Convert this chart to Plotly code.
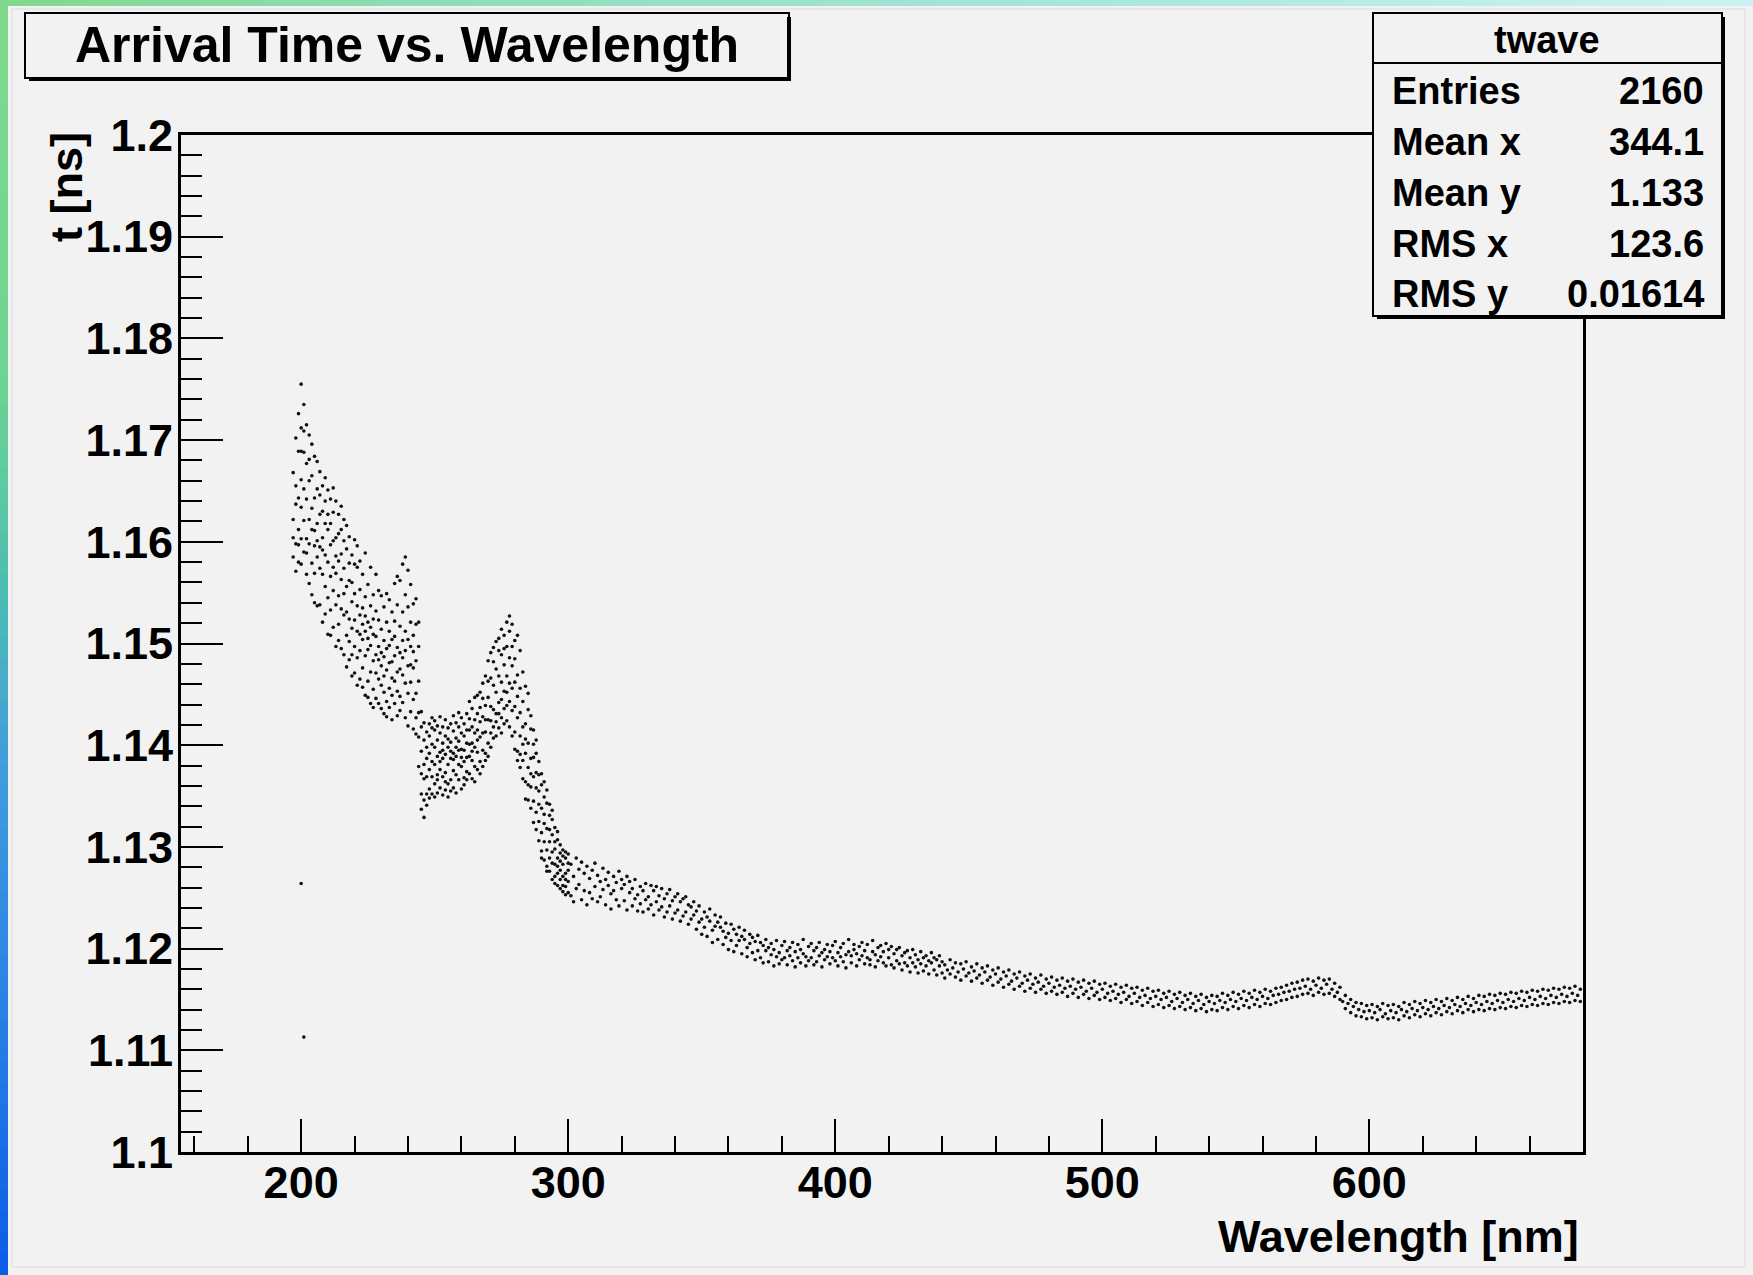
import plotly.graph_objects as go

# ---------------- data ----------------
# arrival time t [ns] of entries, grouped by wavelength bin [nm]
BAND_UV = {
    197: [1.1585, 1.1622, 1.1668, 1.1604],
    198: [1.1571, 1.1637, 1.1702, 1.1598, 1.1655],
    199: [1.1612, 1.1689, 1.1580, 1.1726, 1.1643, 1.1597],
    200: [1.1755, 1.1661, 1.1603, 1.1712, 1.1578, 1.1634, 1.1689],
    201: [1.1735, 1.1652, 1.1590, 1.1688, 1.1621, 1.1709],
    202: [1.1568, 1.1642, 1.1715, 1.1603, 1.1677, 1.1589],
    203: [1.1622, 1.1705, 1.1559, 1.1660, 1.1598, 1.1681],
    204: [1.1548, 1.1633, 1.1696, 1.1579, 1.1612, 1.1665],
    205: [1.1611, 1.1569, 1.1684, 1.1540, 1.1643, 1.1596],
    206: [1.1585, 1.1652, 1.1537, 1.1618, 1.1679, 1.1601],
    207: [1.1538, 1.1627, 1.1574, 1.1669, 1.1595, 1.1646],
    208: [1.1592, 1.1521, 1.1655, 1.1568, 1.1630, 1.1604],
    209: [1.1556, 1.1618, 1.1529, 1.1663, 1.1587, 1.1640],
    210: [1.1612, 1.1545, 1.1580, 1.1651, 1.1509, 1.1627],
    211: [1.1533, 1.1597, 1.1642, 1.1566, 1.1618, 1.1508],
    212: [1.1575, 1.1516, 1.1629, 1.1552, 1.1601, 1.1653],
    213: [1.1538, 1.1604, 1.1497, 1.1569, 1.1640, 1.1586],
    214: [1.1519, 1.1581, 1.1627, 1.1547, 1.1503, 1.1608],
    215: [1.1563, 1.1495, 1.1612, 1.1534, 1.1588, 1.1635],
    216: [1.1528, 1.1574, 1.1489, 1.1601, 1.1549, 1.1622],
    217: [1.1556, 1.1508, 1.1593, 1.1477, 1.1531, 1.1616],
    218: [1.1502, 1.1562, 1.1524, 1.1605, 1.1484, 1.1579],
    219: [1.1541, 1.1489, 1.1587, 1.1515, 1.1468, 1.1560],
    220: [1.1523, 1.1578, 1.1471, 1.1549, 1.1602, 1.1497],
    221: [1.1486, 1.1537, 1.1575, 1.1459, 1.1512, 1.1596],
    222: [1.1528, 1.1465, 1.1553, 1.1493, 1.1581, 1.1509],
    223: [1.1476, 1.1535, 1.1504, 1.1568, 1.1457, 1.1519],
    224: [1.1512, 1.1449, 1.1546, 1.1488, 1.1589, 1.1527],
    225: [1.1463, 1.1521, 1.1494, 1.1558, 1.1447, 1.1505],
    226: [1.1498, 1.1441, 1.1537, 1.1472, 1.1516, 1.1575],
    227: [1.1455, 1.1509, 1.1483, 1.1548, 1.1437, 1.1524],
    228: [1.1489, 1.1532, 1.1446, 1.1507, 1.1568, 1.1471],
    229: [1.1441, 1.1497, 1.1523, 1.1465, 1.1552, 1.1484],
    230: [1.1478, 1.1436, 1.1514, 1.1491, 1.1547, 1.1459],
    231: [1.1452, 1.1503, 1.1431, 1.1487, 1.1536, 1.1468],
    232: [1.1495, 1.1443, 1.1521, 1.1474, 1.1428, 1.1549],
    233: [1.1437, 1.1481, 1.1512, 1.1456, 1.1543, 1.1498],
    234: [1.1466, 1.1425, 1.1504, 1.1482, 1.1531, 1.1449],
    235: [1.1488, 1.1441, 1.1522, 1.1463, 1.1559, 1.1507],
    236: [1.1429, 1.1496, 1.1472, 1.1538, 1.1453, 1.1566],
    237: [1.1475, 1.1434, 1.1517, 1.1562, 1.1491, 1.1448],
    238: [1.1442, 1.1503, 1.1578, 1.1469, 1.1531, 1.1486],
    239: [1.1493, 1.1427, 1.1548, 1.1585, 1.1461, 1.1512],
    240: [1.1419, 1.1478, 1.1536, 1.1504, 1.1451, 1.1572],
    241: [1.1462, 1.1521, 1.1433, 1.1497, 1.1558, 1.1479],
    242: [1.1445, 1.1508, 1.1416, 1.1476, 1.1539, 1.1492],
    243: [1.1427, 1.1483, 1.1519, 1.1451, 1.1411, 1.1544],
    244: [1.1463, 1.1408, 1.1497, 1.1432, 1.1521, 1.1379],
}

BAND_DIP_PEAK = {
    245: [1.1352, 1.1394, 1.1337, 1.1418, 1.1372, 1.1433],
    246: [1.1329, 1.1381, 1.1405, 1.1346, 1.1422, 1.1367],
    247: [1.1398, 1.1341, 1.1413, 1.1369, 1.1387, 1.1352],
    248: [1.1357, 1.1409, 1.1376, 1.1421, 1.1348, 1.1392],
    249: [1.1384, 1.1352, 1.1417, 1.1369, 1.1401, 1.1427],
    250: [1.1362, 1.1398, 1.1349, 1.1415, 1.1381, 1.1424],
    251: [1.1405, 1.1371, 1.1389, 1.1353, 1.1419, 1.1366],
    252: [1.1358, 1.1393, 1.1412, 1.1376, 1.1428, 1.1384],
    253: [1.1387, 1.1351, 1.1402, 1.1369, 1.1418, 1.1395],
    254: [1.1373, 1.1409, 1.1356, 1.1391, 1.1425, 1.1364],
    255: [1.1398, 1.1362, 1.1417, 1.1381, 1.1349, 1.1406],
    256: [1.1366, 1.1403, 1.1387, 1.1421, 1.1355, 1.1394],
    257: [1.1392, 1.1358, 1.1414, 1.1375, 1.1429, 1.1386],
    258: [1.1371, 1.1407, 1.1389, 1.1353, 1.1422, 1.1398],
    259: [1.1404, 1.1366, 1.1418, 1.1381, 1.1395, 1.1432],
    260: [1.1379, 1.1412, 1.1357, 1.1396, 1.1427, 1.1388],
    261: [1.1395, 1.1368, 1.1421, 1.1384, 1.1409, 1.1361],
    262: [1.1366, 1.1402, 1.1388, 1.1431, 1.1374, 1.1415],
    263: [1.1401, 1.1372, 1.1426, 1.1389, 1.1443, 1.1415],
    264: [1.1385, 1.1418, 1.1367, 1.1436, 1.1402, 1.1394],
    265: [1.1412, 1.1379, 1.1447, 1.1398, 1.1425, 1.1364],
    266: [1.1393, 1.1431, 1.1376, 1.1415, 1.1449, 1.1405],
    267: [1.1408, 1.1384, 1.1452, 1.1423, 1.1372, 1.1437],
    268: [1.1428, 1.1395, 1.1461, 1.1379, 1.1412, 1.1446],
    269: [1.1413, 1.1468, 1.1392, 1.1439, 1.1385, 1.1425],
    270: [1.1447, 1.1402, 1.1483, 1.1425, 1.1389, 1.1463],
    271: [1.1424, 1.1466, 1.1398, 1.1491, 1.1438, 1.1412],
    272: [1.1459, 1.1407, 1.1482, 1.1435, 1.1496, 1.1418],
    273: [1.1431, 1.1475, 1.1409, 1.1502, 1.1452, 1.1423],
    274: [1.1468, 1.1417, 1.1493, 1.1442, 1.1505, 1.1431],
    275: [1.1445, 1.1489, 1.1412, 1.1514, 1.1462, 1.1427],
    276: [1.1479, 1.1436, 1.1508, 1.1453, 1.1421, 1.1495],
    277: [1.1452, 1.1497, 1.1424, 1.1521, 1.1468, 1.1439],
    278: [1.1486, 1.1443, 1.1527, 1.1461, 1.1512, 1.1418],
    279: [1.1434, 1.1478, 1.1519, 1.1409, 1.1456, 1.1497],
    280: [1.1462, 1.1413, 1.1503, 1.1438, 1.1485, 1.1396],
    281: [1.1427, 1.1469, 1.1394, 1.1508, 1.1448, 1.1385],
    282: [1.1409, 1.1456, 1.1378, 1.1493, 1.1432, 1.1391],
    283: [1.1443, 1.1385, 1.1472, 1.1367, 1.1418, 1.1401],
    284: [1.1364, 1.1421, 1.1392, 1.1458, 1.1347, 1.1406],
    285: [1.1402, 1.1346, 1.1435, 1.1378, 1.1451, 1.1361],
    286: [1.1338, 1.1387, 1.1416, 1.1359, 1.1429, 1.1372],
    287: [1.1369, 1.1324, 1.1401, 1.1345, 1.1388, 1.1415],
    288: [1.1317, 1.1358, 1.1392, 1.1334, 1.1405, 1.1373],
    289: [1.1342, 1.1306, 1.1371, 1.1325, 1.1384, 1.1355],
    290: [1.1296, 1.1338, 1.1361, 1.1314, 1.1372, 1.1289],
    291: [1.1323, 1.1287, 1.1349, 1.1305, 1.1364, 1.1332],
    292: [1.1281, 1.1318, 1.1343, 1.1297, 1.1356, 1.1276],
    293: [1.1305, 1.1276, 1.1331, 1.1289, 1.1342, 1.1317],
    294: [1.1284, 1.1312, 1.1268, 1.1327, 1.1295, 1.1336],
    295: [1.1271, 1.1298, 1.1319, 1.1283, 1.1264, 1.1305],
    296: [1.1289, 1.1262, 1.1307, 1.1274, 1.1315, 1.1281],
    297: [1.1268, 1.1294, 1.1259, 1.1302, 1.1277, 1.1286],
    298: [1.1283, 1.1256, 1.1297, 1.1271, 1.1262, 1.1291],
    299: [1.1261, 1.1289, 1.1274, 1.1253, 1.1295, 1.1268],
    300: [1.1277, 1.1255, 1.1293, 1.1266, 1.1284],
}

TAIL_BLUE = {
    301: [1.1252, 1.1283], 302: [1.1271, 1.1246], 303: [1.1289, 1.1259], 304: [1.1263, 1.1278],
    305: [1.1248, 1.1285], 306: [1.1274, 1.1257], 307: [1.1281, 1.1243], 308: [1.1255, 1.1269],
    309: [1.1277, 1.1249], 310: [1.1261, 1.1284], 311: [1.1246, 1.1272], 312: [1.1266, 1.1251],
    313: [1.1279, 1.1258], 314: [1.1243, 1.1268], 315: [1.1262, 1.1275], 316: [1.1254, 1.1239],
    317: [1.1271, 1.1257], 318: [1.1248, 1.1265], 319: [1.1276, 1.1242], 320: [1.1259, 1.1268],
    321: [1.1247, 1.1263], 322: [1.1271, 1.1238], 323: [1.1255, 1.1266], 324: [1.1242, 1.1259],
    325: [1.1268, 1.1249], 326: [1.1253, 1.1237], 327: [1.1261, 1.1244], 328: [1.1236, 1.1257],
    329: [1.1264, 1.1248], 330: [1.1251, 1.1239], 331: [1.1243, 1.1262], 332: [1.1257, 1.1233],
    333: [1.1246, 1.1261], 334: [1.1238, 1.1252], 335: [1.1259, 1.1241], 336: [1.1231, 1.1249],
    337: [1.1254, 1.1236], 338: [1.1242, 1.1258], 339: [1.1229, 1.1247], 340: [1.1251, 1.1235],
    341: [1.1238, 1.1254], 342: [1.1227, 1.1246], 343: [1.1249, 1.1232], 344: [1.1236, 1.1251],
    345: [1.1224, 1.1243], 346: [1.1241, 1.1229], 347: [1.1233, 1.1246], 348: [1.1219, 1.1237],
    349: [1.1242, 1.1226], 350: [1.1229, 1.1214], 351: [1.1236, 1.1221], 352: [1.1212, 1.1231],
    353: [1.1227, 1.1239], 354: [1.1218, 1.1206], 355: [1.1233, 1.1222], 356: [1.1209, 1.1226],
    357: [1.1221, 1.1231], 358: [1.1204, 1.1217], 359: [1.1225, 1.1211], 360: [1.1215, 1.1199],
    361: [1.1208, 1.1224], 362: [1.1219, 1.1197], 363: [1.1203, 1.1214], 364: [1.1221, 1.1208],
    365: [1.1195, 1.1212], 366: [1.1209, 1.1218], 367: [1.1201, 1.1192], 368: [1.1214, 1.1205],
    369: [1.1196, 1.1211], 370: [1.1207, 1.1189], 371: [1.1213, 1.1198], 372: [1.1191, 1.1206],
    373: [1.1203, 1.1186], 374: [1.1198, 1.1209], 375: [1.1187, 1.1201], 376: [1.1205, 1.1194],
    377: [1.1183, 1.1199], 378: [1.1208, 1.1192], 379: [1.1196, 1.1185], 380: [1.1203, 1.1189],
    381: [1.1191, 1.1207], 382: [1.1184, 1.1198], 383: [1.1201, 1.1193], 384: [1.1188, 1.1206],
    385: [1.1197, 1.1182], 386: [1.1204, 1.1191], 387: [1.1186, 1.1199], 388: [1.1195, 1.1209],
    389: [1.1183, 1.1192], 390: [1.1202, 1.1188], 391: [1.1191, 1.1205], 392: [1.1198, 1.1184],
    393: [1.1187, 1.1201], 394: [1.1206, 1.1193], 395: [1.1182, 1.1196], 396: [1.1199, 1.1189],
    397: [1.1192, 1.1204], 398: [1.1185, 1.1197], 399: [1.1203, 1.1191], 400: [1.1188, 1.1207],
    401: [1.1196, 1.1183], 402: [1.1201, 1.1192], 403: [1.1187, 1.1205], 404: [1.1194, 1.1181],
    405: [1.1209, 1.1197], 406: [1.1186, 1.1193], 407: [1.1199, 1.1204], 408: [1.1183, 1.1195],
    409: [1.1202, 1.1189], 410: [1.1193, 1.1206], 411: [1.1185, 1.1198], 412: [1.1204, 1.1191],
    413: [1.1189, 1.1184], 414: [1.1197, 1.1208], 415: [1.1182, 1.1194], 416: [1.1201, 1.1188],
    417: [1.1192, 1.1203], 418: [1.1186, 1.1197], 419: [1.1205, 1.1183], 420: [1.1191, 1.1199],
    421: [1.1184, 1.1202], 422: [1.1195, 1.1181], 423: [1.1188, 1.1199], 424: [1.1201, 1.1185],
    425: [1.1179, 1.1193], 426: [1.1196, 1.1186], 427: [1.1183, 1.1198], 428: [1.1191, 1.1177],
    429: [1.1199, 1.1186], 430: [1.1182, 1.1194], 431: [1.1189, 1.1176], 432: [1.1197, 1.1185],
    433: [1.1178, 1.1191], 434: [1.1193, 1.1183], 435: [1.1175, 1.1188], 436: [1.1186, 1.1196],
    437: [1.1179, 1.1191], 438: [1.1189, 1.1174], 439: [1.1183, 1.1193], 440: [1.1176, 1.1187],
}

TAIL_RED = {
    441: [1.1184, 1.1171], 442: [1.1179], 443: [1.1189, 1.1175], 444: [1.1181],
    445: [1.1172, 1.1186], 446: [1.1177], 447: [1.1185, 1.1169], 448: [1.1180],
    449: [1.1173, 1.1187], 450: [1.1176], 451: [1.1168, 1.1182], 452: [1.1178],
    453: [1.1185, 1.1171], 454: [1.1174], 455: [1.1166, 1.1181], 456: [1.1177],
    457: [1.1183, 1.1169], 458: [1.1172], 459: [1.1164, 1.1179], 460: [1.1175],
    461: [1.1181, 1.1167], 462: [1.1170], 463: [1.1162, 1.1177], 464: [1.1173],
    465: [1.1179, 1.1165], 466: [1.1168], 467: [1.1160, 1.1175], 468: [1.1171],
    469: [1.1177, 1.1163], 470: [1.1166], 471: [1.1158, 1.1173], 472: [1.1169],
    473: [1.1175, 1.1161], 474: [1.1165], 475: [1.1157, 1.1171], 476: [1.1167],
    477: [1.1174, 1.1160], 478: [1.1163], 479: [1.1156, 1.1170], 480: [1.1166],
    481: [1.1172, 1.1158], 482: [1.1162], 483: [1.1155, 1.1169], 484: [1.1164],
    485: [1.1171, 1.1157], 486: [1.1161], 487: [1.1153, 1.1168], 488: [1.1163],
    489: [1.1170, 1.1156], 490: [1.1160], 491: [1.1152, 1.1167], 492: [1.1162],
    493: [1.1169, 1.1155], 494: [1.1158], 495: [1.1151, 1.1166], 496: [1.1161],
    497: [1.1168, 1.1154], 498: [1.1157], 499: [1.1150, 1.1165], 500: [1.1160],
    501: [1.1166, 1.1152], 502: [1.1156], 503: [1.1149, 1.1163], 504: [1.1158],
    505: [1.1165, 1.1151], 506: [1.1155], 507: [1.1147, 1.1162], 508: [1.1157],
    509: [1.1164, 1.1150], 510: [1.1153], 511: [1.1146, 1.1161], 512: [1.1156],
    513: [1.1162, 1.1148], 514: [1.1152], 515: [1.1144, 1.1159], 516: [1.1154],
    517: [1.1161, 1.1147], 518: [1.1151], 519: [1.1143, 1.1158], 520: [1.1153],
    521: [1.1159, 1.1145], 522: [1.1150], 523: [1.1142, 1.1156], 524: [1.1152],
    525: [1.1158, 1.1144], 526: [1.1148], 527: [1.1141, 1.1155], 528: [1.1151],
    529: [1.1157, 1.1143], 530: [1.1147], 531: [1.1140, 1.1154], 532: [1.1150],
    533: [1.1156, 1.1142], 534: [1.1146], 535: [1.1139, 1.1153], 536: [1.1149],
    537: [1.1155, 1.1141], 538: [1.1145], 539: [1.1138, 1.1152], 540: [1.1148],
    541: [1.1154, 1.1140], 542: [1.1146], 543: [1.1139, 1.1153], 544: [1.1149],
    545: [1.1156, 1.1142], 546: [1.1147], 547: [1.1140, 1.1154], 548: [1.1150],
    549: [1.1157, 1.1143], 550: [1.1148], 551: [1.1141, 1.1155], 552: [1.1151],
    553: [1.1158, 1.1144], 554: [1.1149], 555: [1.1142, 1.1156], 556: [1.1152],
    557: [1.1159, 1.1145], 558: [1.1150], 559: [1.1143, 1.1157], 560: [1.1153],
    561: [1.1160, 1.1146], 562: [1.1151], 563: [1.1145, 1.1158], 564: [1.1154],
    565: [1.1161, 1.1147], 566: [1.1155], 567: [1.1149, 1.1162], 568: [1.1157],
    569: [1.1164, 1.1150], 570: [1.1158], 571: [1.1152, 1.1166], 572: [1.1160],
    573: [1.1167, 1.1153], 574: [1.1161], 575: [1.1155, 1.1169], 576: [1.1163],
    577: [1.1170, 1.1156], 578: [1.1160], 579: [1.1154, 1.1168], 580: [1.1164],
    581: [1.1171, 1.1157], 582: [1.1161], 583: [1.1155, 1.1169], 584: [1.1165],
    585: [1.1170, 1.1156], 586: [1.1160], 587: [1.1153, 1.1166], 588: [1.1157],
    589: [1.1150, 1.1162], 590: [1.1148], 591: [1.1141, 1.1154], 592: [1.1146],
    593: [1.1137, 1.1150], 594: [1.1143], 595: [1.1134, 1.1147], 596: [1.1140],
    597: [1.1146, 1.1133], 598: [1.1138], 599: [1.1131, 1.1144], 600: [1.1139],
    601: [1.1145, 1.1132], 602: [1.1137], 603: [1.1130, 1.1143], 604: [1.1140],
    605: [1.1146, 1.1133], 606: [1.1136], 607: [1.1131, 1.1144], 608: [1.1139],
    609: [1.1145, 1.1132], 610: [1.1137], 611: [1.1130, 1.1143], 612: [1.1140],
    613: [1.1147, 1.1134], 614: [1.1138], 615: [1.1132, 1.1145], 616: [1.1141],
    617: [1.1148, 1.1135], 618: [1.1139], 619: [1.1133, 1.1146], 620: [1.1142],
    621: [1.1149, 1.1136], 622: [1.1140], 623: [1.1134, 1.1147], 624: [1.1143],
    625: [1.1150, 1.1137], 626: [1.1141], 627: [1.1135, 1.1148], 628: [1.1144],
    629: [1.1151, 1.1138], 630: [1.1142], 631: [1.1136, 1.1149], 632: [1.1145],
    633: [1.1152, 1.1139], 634: [1.1143], 635: [1.1137, 1.1150], 636: [1.1146],
    637: [1.1153, 1.1140], 638: [1.1144], 639: [1.1138, 1.1151], 640: [1.1147],
    641: [1.1154, 1.1140], 642: [1.1145], 643: [1.1139, 1.1153], 644: [1.1148],
    645: [1.1155, 1.1141], 646: [1.1146], 647: [1.1140, 1.1154], 648: [1.1149],
    649: [1.1156, 1.1142], 650: [1.1147], 651: [1.1141, 1.1155], 652: [1.1150],
    653: [1.1157, 1.1143], 654: [1.1148], 655: [1.1142, 1.1156], 656: [1.1151],
    657: [1.1158, 1.1144], 658: [1.1149], 659: [1.1143, 1.1157], 660: [1.1152],
    661: [1.1159, 1.1145], 662: [1.1150], 663: [1.1144, 1.1158], 664: [1.1153],
    665: [1.1160, 1.1146], 666: [1.1151], 667: [1.1145, 1.1159], 668: [1.1154],
    669: [1.1161, 1.1147], 670: [1.1152], 671: [1.1146, 1.1160], 672: [1.1155],
    673: [1.1162, 1.1148], 674: [1.1153], 675: [1.1147, 1.1161], 676: [1.1156],
    677: [1.1163, 1.1149], 678: [1.1154], 679: [1.1148, 1.1160],
}

OUTLIER_NM = [200, 201]
OUTLIER_T = [1.1264, 1.1113]

X_RANGE = [155, 680]
Y_RANGE = [1.1, 1.2]
X_TICKS = [200, 300, 400, 500, 600]
X_TICK_LABELS = ["200", "300", "400", "500", "600"]
Y_TICKS = [1.1, 1.11, 1.12, 1.13, 1.14, 1.15, 1.16, 1.17, 1.18, 1.19, 1.2]
Y_TICK_LABELS = ["1.1", "1.11", "1.12", "1.13", "1.14", "1.15", "1.16", "1.17", "1.18", "1.19", "1.2"]

TITLE = "Arrival Time vs. Wavelength"
X_TITLE = "Wavelength [nm]"
Y_TITLE = "t [ns]"
STATS_NAME = "twave"
STATS_LABELS = ["Entries", "Mean x", "Mean y", "RMS x", "RMS y"]
STATS_VALUES = ["2160", "344.1", "1.133", "123.6", "0.01614"]

# ---------------- flatten groups ----------------
xs, ys = [], []
for group in (BAND_UV, BAND_DIP_PEAK, TAIL_BLUE, TAIL_RED):
    for wl, times in group.items():
        for t in times:
            xs.append(wl)
            ys.append(t)
xs += OUTLIER_NM
ys += OUTLIER_T

# ---------------- layout geometry (pixels) ----------------
W, H = 1753, 1275
FL, FR, FT, FB = 181, 1583, 135, 1152
BG = "#f2f2f2"
FONT = "Liberation Sans, Arial, Helvetica, sans-serif"


def fx(px):
    return (px - FL) / (FR - FL)


def fy(py):
    return (FB - py) / (FB - FT)


def hex2rgb(h):
    h = h.lstrip("#")
    return tuple(int(h[i:i + 2], 16) for i in (0, 2, 4))


def mix(stops, f):
    for i in range(len(stops) - 1):
        a, ca = stops[i]
        b, cb = stops[i + 1]
        if a <= f <= b:
            t = (f - a) / (b - a) if b > a else 0
            c1, c2 = hex2rgb(ca), hex2rgb(cb)
            return "rgb(%d,%d,%d)" % tuple(round(c1[k] + (c2[k] - c1[k]) * t) for k in range(3))
    return stops[-1][1]


shapes = []
# left decorative gradient strip
LEFT_STOPS = [(0.0, "#80d98c"), (0.3, "#6dd492"), (0.45, "#4fbfae"), (0.6, "#3f9ede"),
              (0.8, "#2a7fe4"), (1.0, "#0b5ce8")]
N = 60
for i in range(N):
    y0 = H * i / N
    y1 = H * (i + 1) / N + 1
    shapes.append(dict(type="rect", xref="paper", yref="paper", layer="below",
                       x0=fx(0), x1=fx(8), y0=fy(y1), y1=fy(y0),
                       line=dict(width=0), fillcolor=mix(LEFT_STOPS, (i + 0.5) / N)))
TOP_STOPS = [(0.0, "#80d98c"), (0.25, "#8fdcb8"), (0.6, "#a6e6dc"), (1.0, "#cdf3f3")]
for i in range(N):
    x0 = W * i / N
    x1 = W * (i + 1) / N + 1
    shapes.append(dict(type="rect", xref="paper", yref="paper", layer="below",
                       x0=fx(max(x0, 8)), x1=fx(x1), y0=fy(6), y1=fy(0),
                       line=dict(width=0), fillcolor=mix(TOP_STOPS, (i + 0.5) / N)))
# faint canvas bevel
shapes.append(dict(type="rect", xref="paper", yref="paper", layer="below",
                   x0=fx(12), x1=fx(1745), y0=fy(1267), y1=fy(9),
                   line=dict(width=1, color="#dcdcdc"), fillcolor="rgba(0,0,0,0)"))

# title box
shapes.append(dict(type="rect", xref="paper", yref="paper", layer="above",
                   x0=fx(25), x1=fx(789), y0=fy(78), y1=fy(13),
                   line=dict(width=2, color="black"), fillcolor=BG))
shapes.append(dict(type="line", xref="paper", yref="paper", layer="above",
                   x0=fx(789), x1=fx(789), y0=fy(80), y1=fy(17), line=dict(width=4, color="black")))
shapes.append(dict(type="line", xref="paper", yref="paper", layer="above",
                   x0=fx(29), x1=fx(791), y0=fy(79), y1=fy(79), line=dict(width=4, color="black")))

# stats box
shapes.append(dict(type="rect", xref="paper", yref="paper", layer="above",
                   x0=fx(1373), x1=fx(1722), y0=fy(316), y1=fy(13),
                   line=dict(width=2, color="black"), fillcolor=BG))
shapes.append(dict(type="line", xref="paper", yref="paper", layer="above",
                   x0=fx(1723), x1=fx(1723), y0=fy(319), y1=fy(17), line=dict(width=4, color="black")))
shapes.append(dict(type="line", xref="paper", yref="paper", layer="above",
                   x0=fx(1377), x1=fx(1725), y0=fy(317), y1=fy(317), line=dict(width=4, color="black")))
shapes.append(dict(type="line", xref="paper", yref="paper", layer="above",
                   x0=fx(1373), x1=fx(1722), y0=fy(63), y1=fy(63), line=dict(width=2, color="black")))

annotations = []


def text(s, px, py, size, xanchor="center", angle=0):
    annotations.append(dict(text=s, xref="paper", yref="paper", x=fx(px), y=fy(py),
                            xanchor=xanchor, yanchor="middle", showarrow=False, textangle=angle,
                            font=dict(family=FONT, size=size, color="black", weight="bold")))


text(TITLE, 407, 45, 50)
text(STATS_NAME, 1547, 40, 38)
row_y = [91, 142, 193, 244, 294]
for lab, val, ry in zip(STATS_LABELS, STATS_VALUES, row_y):
    text(lab, 1390, ry, 38, xanchor="left")
    text(val, 1706, ry, 38, xanchor="right")
text(X_TITLE, 1581, 1236, 45, xanchor="right")
text(Y_TITLE, 66, 187, 45, angle=-90)

fig = go.Figure()
fig.add_trace(go.Scatter(x=xs, y=ys, mode="markers",
                         marker=dict(size=3.6, color="#111111", line=dict(width=0)),
                         hoverinfo="skip", showlegend=False))

axis_common = dict(showgrid=False, zeroline=False, showline=True, linecolor="black",
                   linewidth=3, mirror=True, ticks="inside", tickcolor="black", tickwidth=2,
                   tickfont=dict(family=FONT, size=45, color="black", weight="bold"))

fig.update_xaxes(range=X_RANGE, tickvals=X_TICKS, ticktext=X_TICK_LABELS, ticklen=33,
                 minor=dict(dtick=20, ticklen=16, ticks="inside", tickcolor="black", tickwidth=2),
                 ticklabelstandoff=-11, **axis_common)
fig.update_yaxes(range=Y_RANGE, tickvals=Y_TICKS, ticktext=Y_TICK_LABELS, ticklen=42,
                 minor=dict(dtick=0.002, tick0=1.1, ticklen=21, ticks="inside", tickcolor="black", tickwidth=2),
                 ticklabelstandoff=-4, **axis_common)

fig.update_layout(width=W, height=H, autosize=False,
                  margin=dict(l=FL, r=W - FR, t=FT, b=H - FB, pad=0),
                  paper_bgcolor=BG, plot_bgcolor=BG,
                  shapes=shapes, annotations=annotations, showlegend=False)

fig.write_html("out.html")
